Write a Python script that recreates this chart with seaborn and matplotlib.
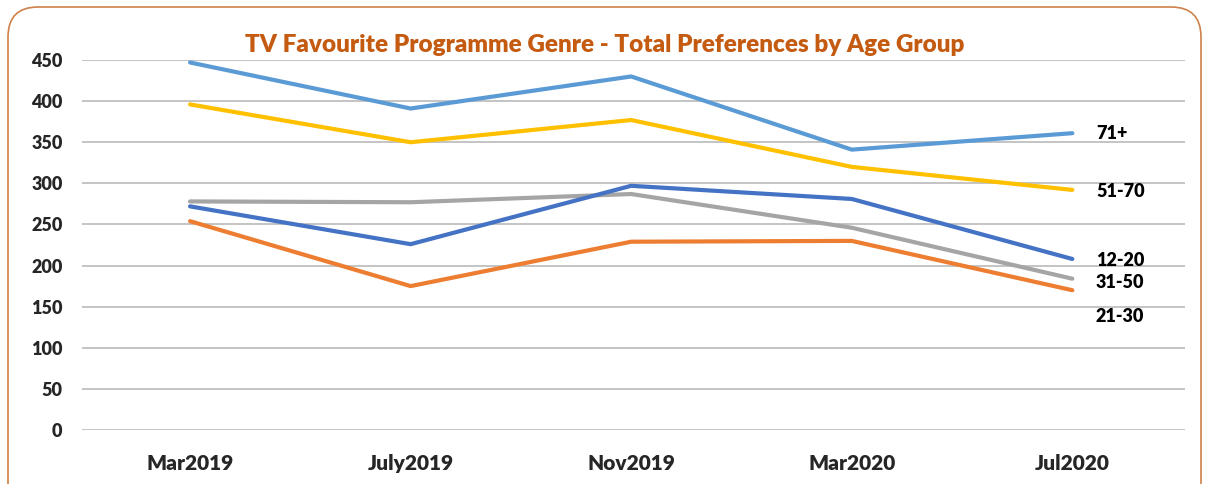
import pandas as pd
import numpy as np
import matplotlib.pyplot as plt
import seaborn as sns
from matplotlib.patches import FancyBboxPatch

sns.set_style('white')
plt.rcParams['font.family'] = ['Lato', 'DejaVu Sans']

# Data
periods = ['Mar2019', 'July2019', 'Nov2019', 'Mar2020', 'Jul2020']
age_groups = ['71+', '51-70', '31-50', '12-20', '21-30']
vals_71 = [447, 391, 430, 341, 361]
vals_51_70 = [396, 350, 377, 320, 292]
vals_31_50 = [278, 277, 287, 246, 184]
vals_12_20 = [272, 226, 297, 281, 208]
vals_21_30 = [254, 175, 229, 230, 170]
palette = ['#5B9BD5', '#FFC000', '#A5A5A5', '#4472C4', '#ED7D31']
label_offsets = [0, -1, -3, -1, -19]  # points, to keep right-hand labels apart

series = [vals_71, vals_51_70, vals_31_50, vals_12_20, vals_21_30]
df = pd.concat([
    pd.DataFrame({'period': periods, 'x': np.arange(len(periods)), 'value': v, 'group': g})
    for g, v in zip(age_groups, series)
])

fig = plt.figure(figsize=(12.09, 4.84), dpi=100)
ax = fig.add_axes([0.0678, 0.1116, 0.9122, 0.7644])

sns.lineplot(data=df, x='x', y='value', hue='group', hue_order=age_groups,
             palette=palette, linewidth=3, legend=False, ax=ax, zorder=3)

for g, v, off in zip(age_groups, series, label_offsets):
    ax.annotate(g, (len(periods) - 1, v[-1]), xytext=(17, off), textcoords='offset points',
                ha='left', va='center', fontsize=13, fontweight='heavy', color='black')

ax.set_xlim(-0.49, 4.51)
ax.set_ylim(0, 450)
ax.set_yticks(range(0, 451, 50))
ax.set_xticks(range(len(periods)))
ax.set_xticklabels(periods)
ax.tick_params(axis='x', labelsize=15, pad=17, length=0)
ax.tick_params(axis='y', labelsize=13, pad=14, length=0)
for lab in ax.get_xticklabels() + ax.get_yticklabels():
    lab.set_fontweight('heavy')
ax.grid(axis='y', color='#BFBFBF', linewidth=1.3)
for s in ax.spines.values():
    s.set_visible(False)
ax.set_xlabel('')
ax.set_ylabel('')

fig.text(0.5, 0.908, 'TV Favourite Programme Genre - Total Preferences by Age Group',
         ha='center', va='center', fontsize=17.5, fontweight='heavy', color='#C55A11')

border = FancyBboxPatch((0.08, -0.3), 11.93, 5.07, boxstyle='round,pad=0,rounding_size=0.3',
                        transform=fig.dpi_scale_trans, facecolor='none',
                        edgecolor='#D0814A', linewidth=1.2)
fig.patches.append(border)

fig.savefig('out.png', dpi=100)
